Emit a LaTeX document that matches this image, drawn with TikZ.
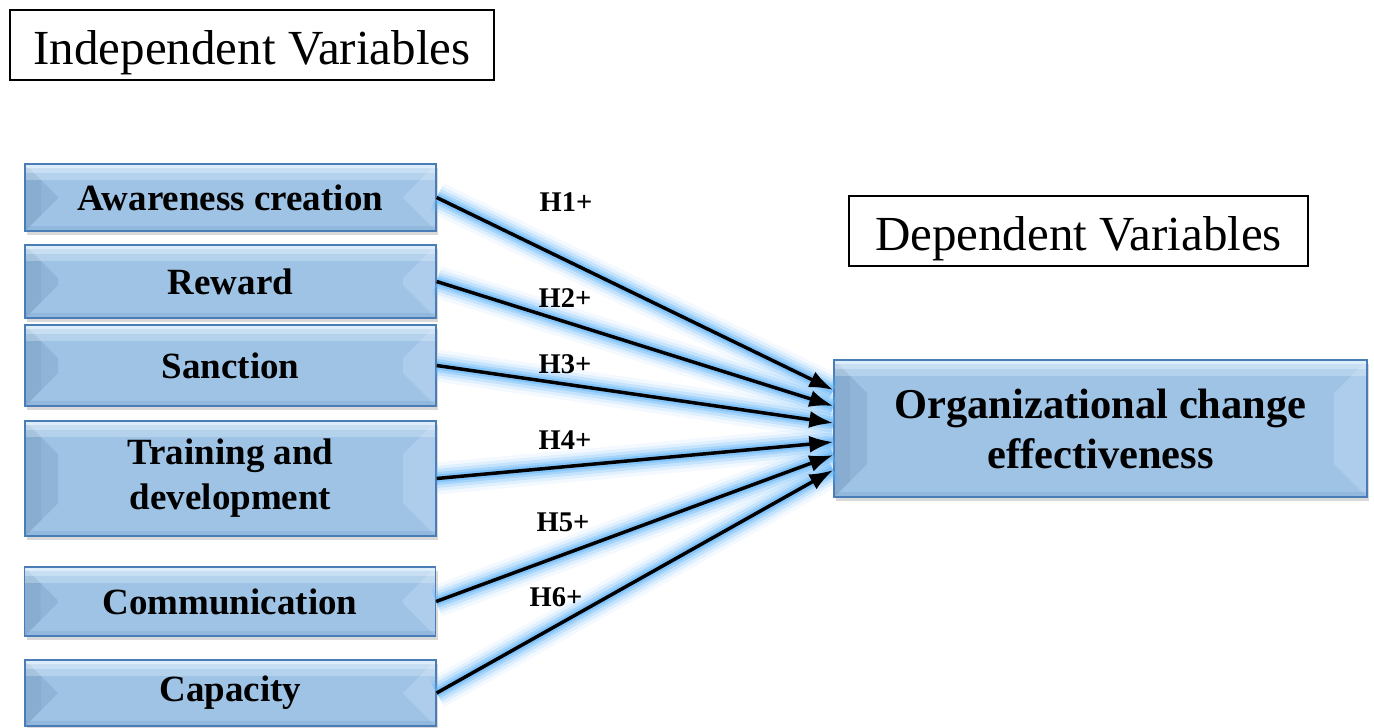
\documentclass[tikz,border=0pt]{standalone}
\usepackage{fontspec}
\setmainfont{Liberation Serif}
\usetikzlibrary{arrows.meta,shadows}
\definecolor{boxface}{RGB}{158,195,229}
\definecolor{boxtop}{RGB}{236,247,255}
\definecolor{boxleft}{RGB}{128,163,200}
\definecolor{boxright}{RGB}{178,208,238}
\definecolor{boxbottom}{RGB}{120,160,204}
\definecolor{boxedge}{RGB}{74,124,182}
\definecolor{glowblue}{RGB}{90,176,248}
\tikzset{
    varbox/.style={draw=boxedge, line width=1.3pt, fill=boxface, inner sep=0pt,
        minimum width=411pt, align=center,
        font=\fontsize{37}{45}\selectfont\bfseries,
        drop shadow={shadow xshift=2pt, shadow yshift=-4pt, opacity=0.3},
        path picture={
            \fill[boxleft, opacity=0.45] (path picture bounding box.north west) -- (path picture bounding box.south west)
                -- ([shift={(33pt,33pt)}]path picture bounding box.south west)
                -- ([shift={(33pt,-33pt)}]path picture bounding box.north west) -- cycle;
            \fill[boxleft, opacity=0.4] (path picture bounding box.north west) -- (path picture bounding box.south west)
                -- ([shift={(16pt,16pt)}]path picture bounding box.south west)
                -- ([shift={(16pt,-16pt)}]path picture bounding box.north west) -- cycle;
            \fill[boxright, opacity=0.8] (path picture bounding box.north east) -- (path picture bounding box.south east)
                -- ([shift={(-33pt,33pt)}]path picture bounding box.south east)
                -- ([shift={(-33pt,-33pt)}]path picture bounding box.north east) -- cycle;
            \fill[boxtop, opacity=0.3] (path picture bounding box.north west) rectangle ([yshift=-16pt]path picture bounding box.north east);
            \fill[boxtop, opacity=0.35] (path picture bounding box.north west) rectangle ([yshift=-9pt]path picture bounding box.north east);
            \fill[boxtop, opacity=0.6] (path picture bounding box.north west) rectangle ([yshift=-4pt]path picture bounding box.north east);
            \fill[boxbottom, opacity=0.3] (path picture bounding box.south west) rectangle ([yshift=5pt]path picture bounding box.south east);
        }},
    titlebox/.style={draw, line width=1.5pt, inner sep=0pt, text height=44pt, text depth=6pt,
        font=\fontsize{49}{56}\selectfont},
    hlabel/.style={font=\fontsize{28.5}{30}\selectfont\bfseries},
    glow/.style={draw=glowblue, line width=8pt, opacity=0.45,
        preaction={draw=glowblue, line width=13pt, opacity=0.3},
        preaction={draw=glowblue, line width=19pt, opacity=0.2},
        preaction={draw=glowblue, line width=25pt, opacity=0.12},
        preaction={draw=glowblue, line width=32pt, opacity=0.07}},
    hypo/.style={line width=3.5pt, -{Latex[length=24pt,width=17pt]}}
}
\begin{document}
\begin{tikzpicture}[x=1pt, y=-1pt]
        \useasboundingbox (0,0) rectangle (1374,728);
        \node[titlebox, minimum width=484pt, minimum height=70pt] (indep) at (252,45) {Independent Variables};
        \node[titlebox, minimum width=459pt, minimum height=70pt] (dep) at (1078.5,231) {Dependent Variables};
        \node[varbox, minimum height=67pt] (aware) at (230.5,197.5) {Awareness creation};
        \node[varbox, minimum height=73pt] (reward) at (230.5,281.5) {Reward};
        \node[varbox, minimum height=81pt] (sanction) at (230.5,365.5) {Sanction};
        \node[varbox, minimum height=115pt] (train) at (230.5,478.5) {Training and\\development};
        \node[varbox, minimum height=69pt] (comm) at (230,601.5) {Communication};
        \node[varbox, minimum height=66pt] (capac) at (230.5,693) {Capacity};
        \node[varbox, minimum width=533pt, minimum height=137pt, font=\fontsize{42.5}{50}\selectfont\bfseries]
            (org) at (1100.5,428.5) {Organizational change\\effectiveness};
        \foreach \src/\dy in {aware/38.5, reward/22.5, sanction/5.5, train/-13.5, comm/-26.5, capac/-41.5}
            \draw[glow] (\src.east) -- ([yshift=\dy pt]org.west);
        \foreach \src/\dy in {aware/38.5, reward/22.5, sanction/5.5, train/-13.5, comm/-26.5, capac/-41.5}
            \draw[hypo] (\src.east) -- ([yshift=\dy pt]org.west);
        \node[hlabel] (h1) at (566,202) {H1+};
        \node[hlabel] (h2) at (565,298) {H2+};
        \node[hlabel] (h3) at (565,364) {H3+};
        \node[hlabel] (h4) at (565,440) {H4+};
        \node[hlabel] (h5) at (563,522) {H5+};
        \node[hlabel] (h6) at (556,597) {H6+};
    \end{tikzpicture}
\end{document}
